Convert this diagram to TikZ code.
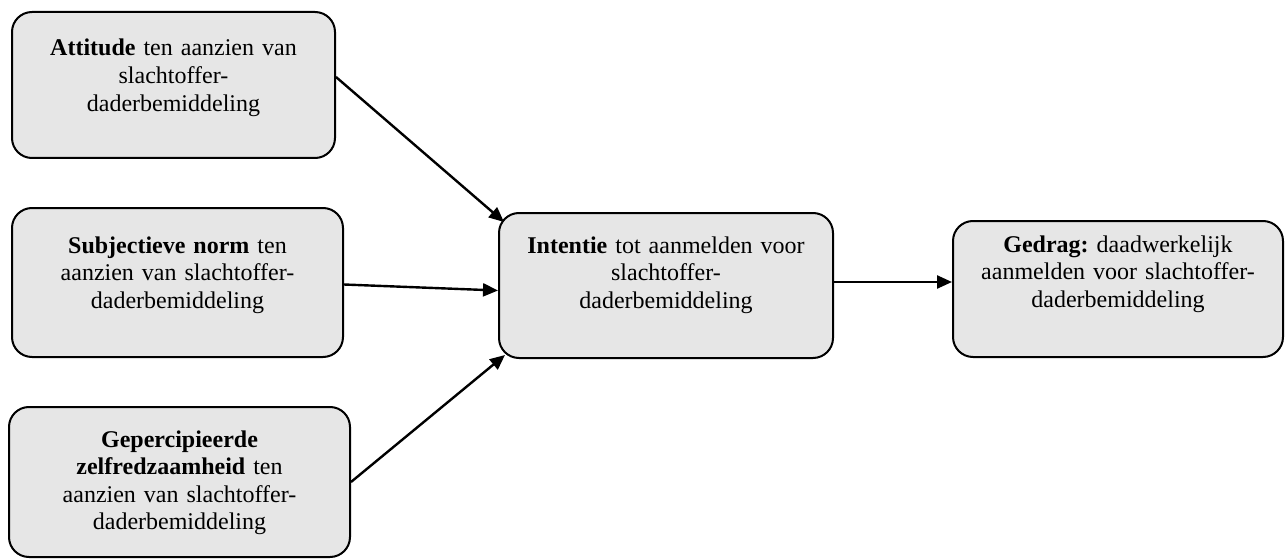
\documentclass[tikz,border=0pt]{standalone}
\usepackage{fontspec}
\setmainfont{Liberation Serif}
\usetikzlibrary{arrows.meta,calc}
\frenchspacing
\begin{document}
\begin{tikzpicture}[x=1pt,y=-1pt,
  box/.style={draw=black,line width=2pt,fill=boxgray,rounded corners=20pt,
    rectangle,inner sep=0pt},
  lbl/.style={anchor=base,align=center,inner sep=0pt,
    font=\frenchspacing\fontsize{24}{27.6}\selectfont},
  arr/.style={line width=2.4pt,-{Triangle[length=15pt,width=13pt]}}]
\definecolor{boxgray}{HTML}{E6E6E6}
\useasboundingbox (0,0) rectangle (1285,559);
% boxes
\node[box,minimum width=323pt,minimum height=146pt] (a) at (173.5,85) {};
\node[box,minimum width=331pt,minimum height=149pt] (b) at (177.5,282.5) {};
\node[box,minimum width=341pt,minimum height=150pt] (c) at (179.5,482) {};
\node[box,minimum width=334pt,minimum height=145pt] (i) at (666,285.5) {};
\node[box,minimum width=330pt,minimum height=136pt] (g) at (1118,289) {};
% texts
\node[lbl,text width=300pt] (at) at (173.5,56) {\textbf{Attitude} ten aanzien van\\slachtoffer-\\daderbemiddeling};
\node[lbl,text width=310pt] (bt) at (177.5,253) {\textbf{Subjectieve norm} ten\\aanzien van slachtoffer-\\daderbemiddeling};
\node[lbl,text width=320pt] (ct) at (179.5,447) {\textbf{Gepercipieerde}\\\textbf{zelfredzaamheid} ten\\aanzien van slachtoffer-\\daderbemiddeling};
\node[lbl,text width=314pt] (it) at (666,253) {\textbf{Intentie} tot aanmelden voor\\slachtoffer-\\daderbemiddeling};
\node[lbl,text width=310pt] (gt) at (1118,252) {\textbf{Gedrag:} daadwerkelijk\\aanmelden voor slachtoffer-\\daderbemiddeling};
% arrows
\coordinate (ie) at ($(i.east)+(0,-3.5)$);
\draw[arr] ($(a.east)+(0,-8)$) -- ($(i.north west)+(6,10)$);
\draw[arr] ($(b.east)+(0,2)$) -- ($(i.west)+(0,5)$);
\draw[arr] (c.east) -- ($(i.south west)+(7,-4)$);
\draw[arr] (ie) -- (ie -| g.west);
\end{tikzpicture}
\end{document}
